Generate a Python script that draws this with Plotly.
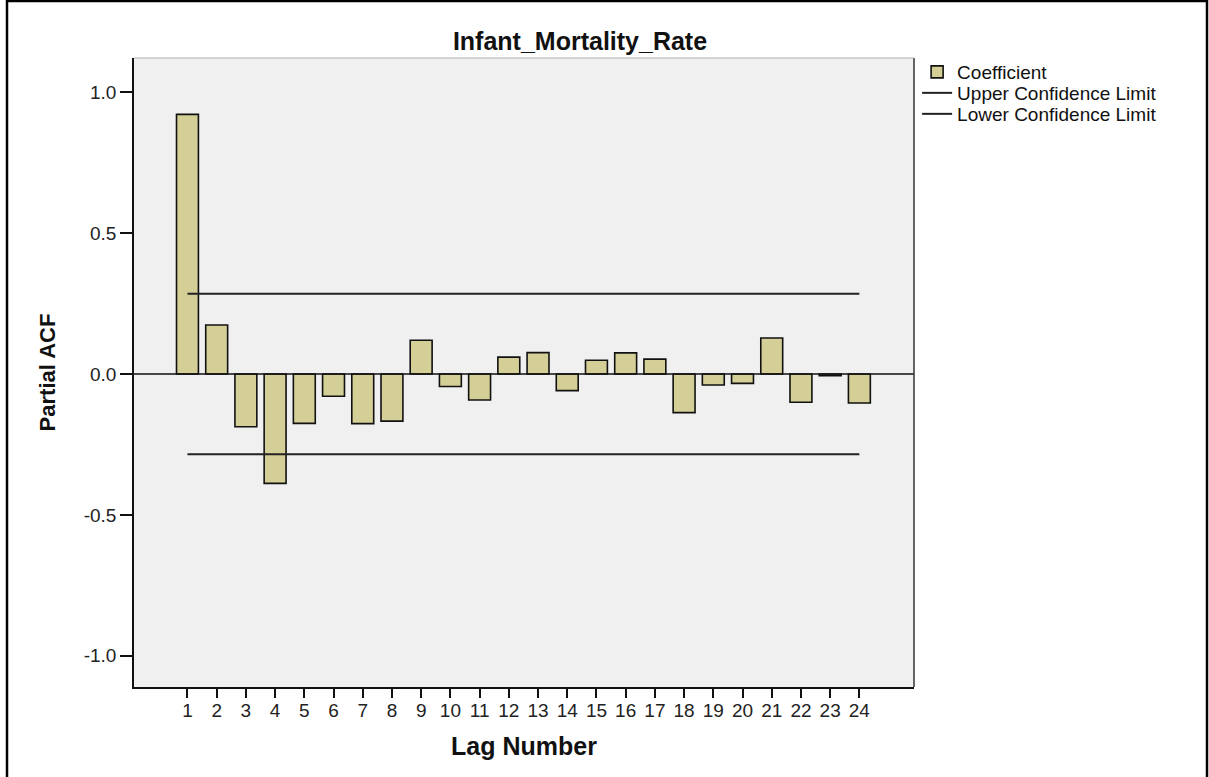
import plotly.graph_objects as go

# Partial autocorrelation of the Infant_Mortality_Rate series
lags = list(range(1, 25))
pacf = [0.922, 0.174, -0.187, -0.388, -0.175, -0.079, -0.176, -0.167,
        0.120, -0.044, -0.092, 0.060, 0.076, -0.059, 0.049, 0.075,
        0.053, -0.137, -0.039, -0.033, 0.128, -0.100, -0.006, -0.103]
upper_limit = [0.285] * len(lags)
lower_limit = [-0.285] * len(lags)

y_tick_vals = [-1.0, -0.5, 0.0, 0.5, 1.0]
y_tick_text = ["-1.0", "-0.5", "0.0", "0.5", "1.0"]

FONT = "Liberation Sans, Arial, sans-serif"
PLOT_L, PLOT_R, PLOT_T, PLOT_B = 134, 914, 58, 687
PLOT_W, PLOT_H = PLOT_R - PLOT_L, PLOT_B - PLOT_T


def px_to_paper_y(py):
    return (PLOT_B - py) / PLOT_H


fig = go.Figure()
fig.add_trace(go.Bar(
    x=lags, y=pacf, name="Coefficient", width=0.75, legend="legend",
    marker=dict(color="#d4cf96", line=dict(color="#111111", width=1.6)),
))
fig.add_trace(go.Scatter(
    x=lags, y=upper_limit, mode="lines", name="Upper Confidence Limit",
    legend="legend2", line=dict(color="#222222", width=2),
))
fig.add_trace(go.Scatter(
    x=lags, y=lower_limit, mode="lines", name="Lower Confidence Limit",
    legend="legend3", line=dict(color="#222222", width=2),
))

legend_style = dict(x=1.004, xanchor="left", yanchor="middle",
                    font=dict(size=19, color="#111111"),
                    bgcolor="rgba(0,0,0,0)", itemwidth=30)

fig.update_layout(
    width=1209, height=777,
    margin=dict(l=PLOT_L, r=1209 - PLOT_R, t=PLOT_T, b=777 - PLOT_B),
    paper_bgcolor="white", plot_bgcolor="#f0f0f0",
    font=dict(family=FONT, color="#222222"),
    title=dict(text="<b>Infant_Mortality_Rate</b>",
               x=(580 - PLOT_L) / PLOT_W, xanchor="center",
               y=1 - 41 / 777, yanchor="middle", xref="paper", yref="container",
               font=dict(size=25, color="#111111")),
    showlegend=True,
    legend=dict(y=px_to_paper_y(72), **legend_style),
    legend2=dict(y=px_to_paper_y(93), **legend_style),
    legend3=dict(y=px_to_paper_y(114), **legend_style),
    xaxis=dict(range=[-0.83, 25.87], tickmode="array", tickvals=lags,
               ticks="outside", ticklen=9, tickcolor="#111111", tickwidth=1.5,
               ticklabelstandoff=-4,
               showgrid=False, zeroline=False, showline=True,
               linecolor="#111111", linewidth=1.5,
               tickfont=dict(size=19, color="#222222"),
               title=dict(text="<b>Lag Number</b>", standoff=18,
                          font=dict(size=25, color="#111111"))),
    yaxis=dict(range=[-1.111, 1.122], tickmode="array", tickvals=y_tick_vals,
               ticktext=y_tick_text, ticks="outside", ticklen=12,
               tickcolor="#111111", tickwidth=1.5,
               showgrid=False, zeroline=False, showline=True,
               linecolor="#111111", linewidth=1.5,
               tickfont=dict(size=19, color="#222222"),
               title=dict(text="<b>Partial ACF</b>", standoff=22,
                          font=dict(size=22, color="#111111"))),
)

# Zero reference line across the plot
fig.add_shape(type="line", xref="paper", yref="y", x0=0, x1=1, y0=0, y1=0,
              line=dict(color="#111111", width=1.6), layer="above")
# Plot frame: dark right edge, light top edge
fig.add_shape(type="line", xref="paper", yref="paper", x0=1, x1=1, y0=0, y1=1,
              line=dict(color="#333333", width=1.5), layer="above")
fig.add_shape(type="line", xref="paper", yref="paper", x0=0, x1=1, y0=1, y1=1,
              line=dict(color="#b0b0b0", width=1.2), layer="above")
# Outer border around the whole chart
fig.add_shape(type="rect", xref="paper", yref="paper",
              x0=(7 - PLOT_L) / PLOT_W, x1=(1207 - PLOT_L) / PLOT_W,
              y0=px_to_paper_y(790), y1=px_to_paper_y(1),
              line=dict(color="#000000", width=2.5), fillcolor="rgba(0,0,0,0)",
              layer="below")

fig.write_html("out.html")
